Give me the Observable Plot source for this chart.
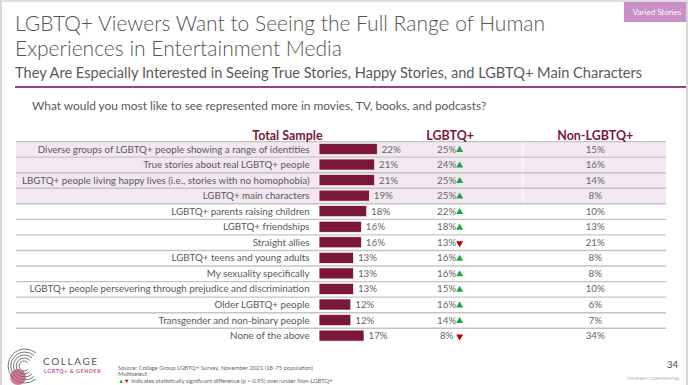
<!DOCTYPE html>
<html>
<head>
<meta charset="utf-8">
<script src="https://cdn.jsdelivr.net/npm/d3@7"></script>
<script src="https://cdn.jsdelivr.net/npm/@observablehq/plot@0.6"></script>
<style>
  html, body { margin: 0; padding: 0; background: #fff; }
  #slide { position: relative; width: 688px; height: 385px; overflow: hidden; font-family: Lato, "Noto Sans", sans-serif; box-sizing: border-box; border-left: 2px solid #d6d6d6; border-top: 2px solid #e0e0e0; border-right: 2px solid #d6d6d6; }
  .abs { position: absolute; white-space: nowrap; }
  #title { left: 13px; top: 8px; font-size: 21px; font-weight: 300; color: #555; line-height: 25px; }
  #subtitle { left: 13px; top: 62px; font-size: 14.6px; font-weight: 400; color: #5a5a5a; }
  #rule { left: 13px; top: 84px; width: 680px; height: 2px; background: #9b3d98; }
  #tag { left: 622px; top: 0px; width: 66px; height: 20px; background: #c98fc6; color: #fff; font-size: 8px; line-height: 20px; text-align: center; }
  #question { left: 30px; top: 96px; font-size: 11.9px; color: #595959; }
  #plot { left: -2px; top: -2px; }
  #collage { left: 41px; top: 353px; font-size: 10px; letter-spacing: 1.6px; color: #555; font-weight: 400; }
  #collage2 { left: 42px; top: 366px; font-size: 5.3px; letter-spacing: 0.6px; color: #c1568e; font-weight: 700; }
  #source { left: 116px; top: 363px; font-size: 5.9px; color: #666; line-height: 6.4px; }
  #page { right: 8px; top: 357px; font-size: 9.5px; color: #444; }
  #conf { right: 6px; top: 374px; font-size: 4.1px; color: #aaa; letter-spacing: 0.1px; }
  .up { color: #1aa548; } .down { color: #c00000; }
</style>
</head>
<body>
<div id="slide">
  <div id="plot" class="abs"></div>
  <div id="title" class="abs">LGBTQ+ Viewers Want to Seeing the Full Range of Human<br>Experiences in Entertainment Media</div>
  <div id="subtitle" class="abs">They Are Especially Interested in Seeing True Stories, Happy Stories, and LGBTQ+ Main Characters</div>
  <div id="rule" class="abs"></div>
  <div id="tag" class="abs">Varied Stories</div>
  <div id="question" class="abs">What would you most like to see represented more in movies, TV, books, and podcasts?</div>
  <svg class="abs" style="left:2px;top:343px" width="40" height="42" viewBox="0 0 40 42">
    <g fill="none" stroke="#6a6a6a" stroke-width="0.9">
      <path d="M32 8 A17 17 0 1 0 32 34"/>
      <path d="M30 10.5 A14 14 0 1 0 30 31.5"/>
      <path d="M28 13 A11 11 0 1 0 28 29"/>
      <path d="M26 15.5 A8 8 0 1 0 26 26.5"/>
      <path d="M24 18 A5 5 0 1 0 24 24"/>
    </g>
    <circle cx="14" cy="32" r="8" fill="#b5466f" opacity="0.7"/>
  </svg>
  <div id="collage" class="abs">COLLAGE</div>
  <div id="collage2" class="abs">LGBTQ+ &amp; GENDER</div>
  <div id="source" class="abs">Source: Collage Group LGBTQ+ Survey, November 2021 (18-75 population)<br>Multiselect<br><span class="up">▲</span><span class="down">▼</span> indicates statistically significant difference (p &gt; 0.95) over/under Non-LGBTQ+</div>
  <div id="page" class="abs">34</div>
  <div id="conf" class="abs">COMPANY CONFIDENTIAL</div>
</div>
<script>
const labels = [
  "Diverse groups of LGBTQ+ people showing a range of identities",
  "True stories about real LGBTQ+ people",
  "LBGTQ+ people living happy lives (i.e., stories with no homophobia)",
  "LGBTQ+ main characters",
  "LGBTQ+ parents raising children",
  "LGBTQ+ friendships",
  "Straight allies",
  "LGBTQ+ teens and young adults",
  "My sexuality specifically",
  "LGBTQ+ people persevering through prejudice and discrimination",
  "Older LGBTQ+ people",
  "Transgender and non-binary people",
  "None of the above"
];
const totalSample = [22, 21, 21, 19, 18, 16, 16, 13, 13, 13, 12, 12, 17];
const lgbtq      = [25, 24, 25, 25, 22, 18, 13, 16, 16, 15, 16, 14, 8];
const lgbtqSig   = ["up","up","up","up","up","up","down","up","up","up","up","up","down"];
const nonLgbtq   = [15, 16, 14, 8, 10, 13, 21, 8, 8, 10, 6, 7, 34];
const highlighted = [true, true, true, true, false, false, false, false, false, false, false, false, false];
const headers = ["Total Sample", "LGBTQ+", "Non-LGBTQ+"];

const rows = labels.map((label, i) => ({
  label, total: totalSample[i], lgbtq: lgbtq[i], sig: lgbtqSig[i], non: nonLgbtq[i], hl: highlighted[i]
}));

const W = 688, H = 385;
const tableTop = 141.5, tableBottom = 344.3;
const band = (tableBottom - tableTop) / labels.length;
const pxPerUnit = 2.65;
const u = px => (px - 320) / pxPerUnit; // pixel position -> x units
const LG_X = u(447.5), TRI_X = u(460.5), NON_X = u(596.5), LGH_X = u(451), NONH_X = u(596.5);
const dark = "#7b1838";
const green = "#1aa548", red = "#c00000";

const chart = Plot.plot({
  width: W, height: H,
  marginTop: tableTop, marginBottom: H - tableBottom, marginLeft: 16, marginRight: 20,
  style: { fontFamily: "Lato, 'Noto Sans', sans-serif", background: "transparent", overflow: "visible" },
  x: { domain: [0, 100], range: [320, 320 + 100 * pxPerUnit], axis: null },
  y: { domain: labels, padding: 0, round: false, axis: null },
  marks: [
    Plot.cell(rows.filter(d => d.hl), { y: "label", fill: "#f3e8f1" }),
    Plot.tickX(rows.filter(d => d.hl), { x: u(524), y: "label", stroke: "#fff", strokeWidth: 1 }),
    Plot.ruleY(rows, { y: "label", dy: -band / 2, stroke: "#c4c4c4", strokeWidth: 1.4 }),
    Plot.barX(rows, { x: "total", y: "label", fill: dark, stroke: "#fff", strokeWidth: 0.6, insetTop: 2.4, insetBottom: 2.2 }),
    Plot.text(rows, { x: 0, y: "label", text: "label", textAnchor: "end", dx: -10, fill: "#595959", fontSize: 9.8 }),
    Plot.text(rows, { x: "total", y: "label", text: d => d.total + "%", textAnchor: "start", dx: 4, fill: "#666", fontSize: 9.8 }),
    Plot.text(rows, { x: LG_X, y: "label", text: d => d.lgbtq + "%", textAnchor: "middle", fill: "#666", fontSize: 9.8 }),
    Plot.dot(rows, { x: TRI_X, y: "label", symbol: "triangle", r: 2.6, fill: d => d.sig === "up" ? green : red, rotate: d => d.sig === "up" ? 0 : 180, dy: 0.5 }),
    Plot.text(rows, { x: NON_X, y: "label", text: d => d.non + "%", textAnchor: "middle", fill: "#666", fontSize: 9.8 }),
    Plot.text([headers[0]], { x: 0, frameAnchor: "top", dy: -10, dx: 3, textAnchor: "end", fill: dark, fontSize: 12.5, fontWeight: 700 }),
    Plot.text([headers[1]], { x: LGH_X, frameAnchor: "top", dy: -10, textAnchor: "middle", fill: dark, fontSize: 12.5, fontWeight: 700 }),
    Plot.text([headers[2]], { x: NONH_X, frameAnchor: "top", dy: -10, textAnchor: "middle", fill: dark, fontSize: 12.5, fontWeight: 700 })
  ]
});
document.getElementById("plot").appendChild(chart);
</script>
</body>
</html>
